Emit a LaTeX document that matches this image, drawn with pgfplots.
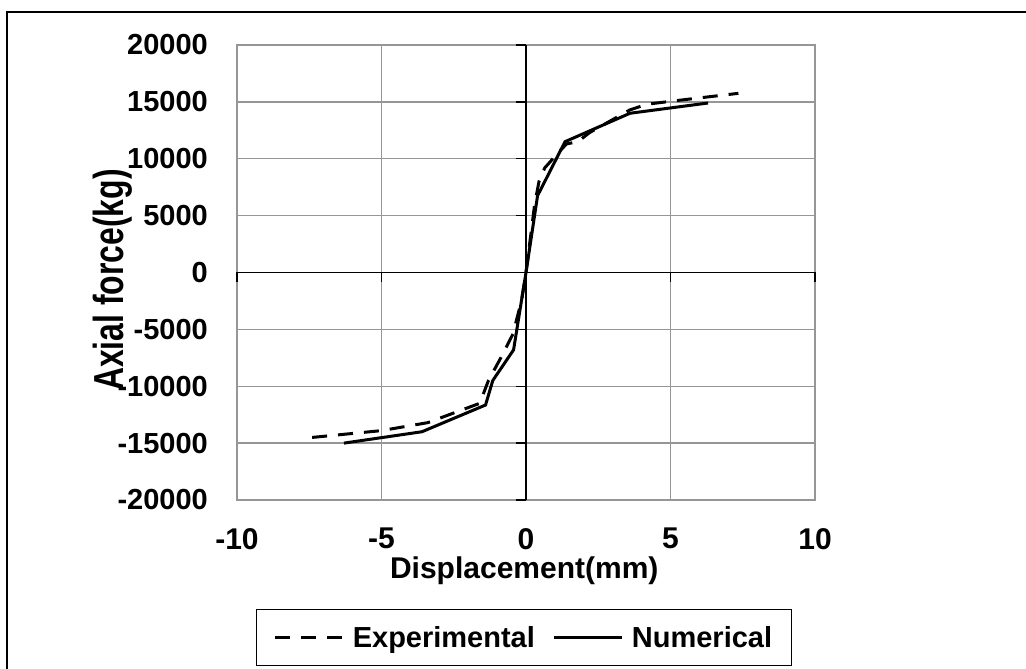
\documentclass[border=0pt]{standalone}
\usepackage{fontspec}
\setmainfont{Liberation Sans}
\newfontfamily\narrowfont{Liberation Sans}[FakeStretch=0.76]
\usepackage{pgfplots}
\pgfplotsset{compat=1.18}
\definecolor{gridgray}{RGB}{150,150,150}
\begin{document}
\begin{tikzpicture}
\useasboundingbox (0pt,0pt) rectangle (1026pt,669pt);
\fill[white] (0pt,0pt) rectangle (1026pt,669pt);
\draw[line width=1.8pt] (7pt,-5pt) -- (7pt,657pt) -- (1030pt,657pt);
\begin{axis}[
  at={(237pt,169pt)}, anchor=south west,
  scale only axis, width=578pt, height=455pt,
  xmin=-10, xmax=10, ymin=-20000, ymax=20000,
  scaled x ticks=false, scaled y ticks=false,
  xtick={-10,-5,0,5,10}, xticklabels={-10,-5,0,5,10},
  ytick={-20000,-15000,-10000,-5000,0,5000,10000,15000,20000},
  yticklabels={-20000,-15000,-10000,-5000,0,5000,10000,15000,20000},
  major tick length=0pt,
  grid=major,
  grid style={color=gridgray, line width=1.3pt},
  axis line style={gridgray, line width=1.3pt},
  yticklabel style={font=\fontsize{29}{30}\selectfont\bfseries, inner sep=0pt, anchor=east, xshift=-29pt},
  xticklabel style={font=\fontsize{30}{32}\selectfont\bfseries, inner sep=0pt, anchor=north, yshift=-28pt},
  xlabel={Displacement(mm)},
  ylabel={Axial force(kg)},
  xlabel style={font=\fontsize{30}{32}\selectfont\bfseries, at={(axis description cs:0.497,-0.1736)}, anchor=base, inner sep=0pt},
  ylabel style={font=\narrowfont\fontsize{42}{44}\selectfont\bfseries, at={(axis description cs:-0.197,0.4835)}, anchor=base, inner sep=0pt},
  legend style={at={(axis description cs:0.4965,-0.3022)}, anchor=center,
    legend columns=2, draw=black, line width=1.3pt,
    font=\fontsize{29}{31}\selectfont\bfseries,
    inner xsep=17pt, inner ysep=15pt,
    /tikz/every odd column/.append style={column sep=6pt},
    /tikz/every even column/.append style={column sep=16pt}},
  legend image code/.code={\draw[#1] (0pt,0pt) -- (68pt,0pt);},
  clip=false,
]
\draw[black, line width=1.5pt] (axis cs:0,-20000) -- (axis cs:0,20000);
\draw[black, line width=1.5pt] (axis cs:-10,0) -- (axis cs:10,0);
\pgfplotsinvokeforeach{-20000,-15000,-10000,-5000,0,5000,10000,15000,20000}{
  \draw[black, line width=1.3pt] (axis cs:0,#1) -- ++(-10pt,0pt);
}
\pgfplotsinvokeforeach{-10,-5,0,5,10}{
  \draw[black, line width=1.3pt] (axis cs:#1,0) -- ++(0pt,-10pt);
}
\addplot[black, line width=3pt, dash pattern=on 15pt off 11pt] coordinates {
  (-7.4,-14500) (-5.0,-13900) (-3.4,-13200) (-1.6,-11500) (-1.3,-9500)
  (-0.85,-7400) (-0.45,-5400) (-0.15,-2400) (0,0) (0.3,6000) (0.45,8000)
  (0.65,9200) (1.0,10200) (1.4,11300) (1.8,11500) (2.2,12300) (3.6,14300)
  (4.2,14800) (5.5,15200) (7.35,15750)
};
\addlegendentry{Experimental}
\addplot[black, line width=3pt] coordinates {
  (-6.3,-15000) (-3.6,-14000) (-1.4,-11650) (-1.15,-9500) (-0.43,-6800)
  (0,0) (0.4,6750) (1.35,11500) (3.6,14000) (6.3,14900)
};
\addlegendentry{Numerical}
\end{axis}
\end{tikzpicture}
\end{document}
